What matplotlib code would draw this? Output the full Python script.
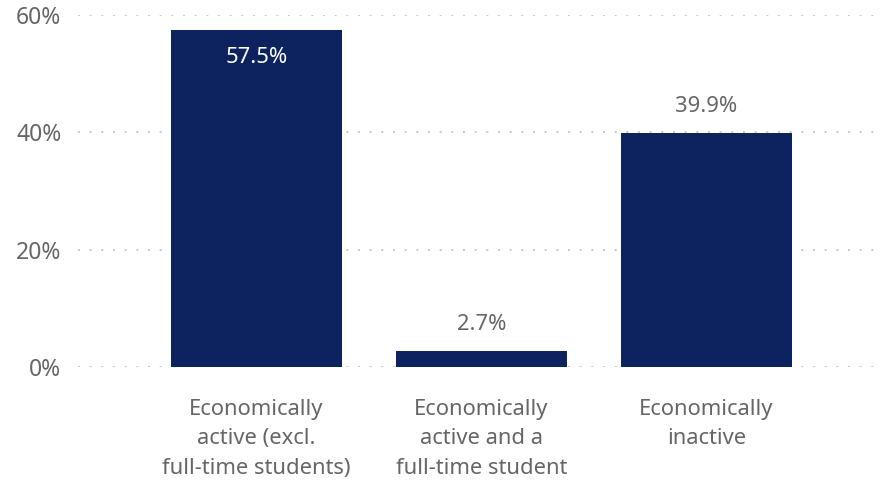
import matplotlib.pyplot as plt

categories = ["Economically\nactive (excl.\nfull-time students)",
              "Economically\nactive and a\nfull-time student",
              "Economically\ninactive"]
values = [57.5, 2.7, 39.9]
inside = [True, False, False]
yticks = [0, 20, 40, 60]

plt.rcParams['font.family'] = ['Noto Sans', 'DejaVu Sans']
grey = '#666666'
navy = '#0C2360'

fig = plt.figure(figsize=(8.83, 4.84), dpi=100)
ax = fig.add_axes([0.0883, 0.2417, 0.9083, 0.7273])

x = range(len(values))
bars = ax.bar(x, values, width=0.76, color=navy, zorder=3)

for xi, v, ins in zip(x, values, inside):
    if ins:
        ax.annotate(f"{v}%", (xi, v), xytext=(0, -20), textcoords='offset points',
                    ha='center', va='center', color='white', fontsize=15.8)
    else:
        ax.annotate(f"{v}%", (xi, v), xytext=(0, 19), textcoords='offset points',
                    ha='center', va='center', color=grey, fontsize=15.8)

ax.set_xlim(-0.793, 2.771)
ax.set_ylim(0, 60)
ax.set_yticks(yticks)
ax.set_yticklabels([f"{t}%" for t in yticks], color=grey, fontsize=16.5)
ax.set_xticks(list(x))
ax.set_xticklabels(categories, color=grey, fontsize=15.8, linespacing=1.52)
ax.tick_params(axis='both', length=0)
ax.tick_params(axis='x', pad=23)
ax.tick_params(axis='y', pad=12)
ax.grid(axis='y', color='#C8C8C8', linestyle=(0, (1, 5)), linewidth=1.4, zorder=0)
for s in ax.spines.values():
    s.set_visible(False)

fig.savefig("out.png", dpi=100)
